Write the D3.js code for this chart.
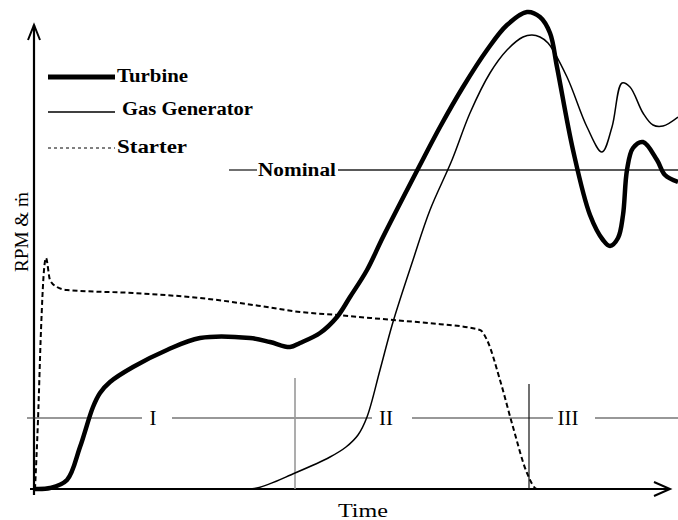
<!DOCTYPE html>
<html>
<head>
<meta charset="utf-8">
<script src="https://cdn.jsdelivr.net/npm/d3@7"></script>
<style>
  body { margin: 0; background: #fff; }
  text { font-family: "Liberation Serif", "Times New Roman", serif; fill: #000; }
</style>
</head>
<body>
<svg id="chart" width="678" height="520"></svg>
<script>
// time in arbitrary units, speed in arbitrary units (nominal ~ 80)
var turbine = [
  [0.05,0],[0.8,0.25],[1.65,2.25],[2.3,10.5],[2.95,20.5],[3.3,24],[3.8,26.75],[4.95,30.5],
  [6.65,34.75],[8.3,37.75],[10.8,37.75],[11.8,36.75],[12.8,35.5],[13.3,36.5],[14.3,39],
  [15.15,43],[15.8,48],[16.65,54.75],[17.45,63],[19.3,81],[20.3,90.5],[21.45,100.5],
  [22.65,109.75],[23.65,116],[24.65,119.25],[25.3,118],[25.8,114],[26.15,105.5],[26.95,84.75],
  [27.8,68.5],[28.45,62.25],[28.8,60.75],[29.2,62.75],[29.45,68.5],[29.65,79.75],[29.95,85.25],
  [30.45,86.75],[31.15,82.25],[31.55,78.5],[32.2,76.75]
];
var gasGenerator = [
  [10.15,0],[11.15,0.25],[13.05,4],[14.8,8],[15.6,10.5],[16.2,13.5],[16.65,18],[17.3,29.75],[17.95,41.75],
  [18.95,57.25],[19.8,69.75],[20.9,82.25],[21.8,94],[22.8,104],[23.65,109.75],[24.45,113],
  [24.9,113.5],[25.3,113],[25.7,111.5],[26.65,103],[27.65,90.5],[28.4,84.25],[28.9,90.5],
  [29.4,101.5],[29.8,100.5],[30.45,94],[30.95,91],[31.45,90.75],[32.2,93]
];
var starter = [
  [0.05,0],[0.2,17.25],[0.35,39.75],[0.5,54.75],[0.6,57.75],[0.8,52.25],[1.15,50.5],[1.65,49.75],
  [4.95,49],[8.3,47.75],[11.65,45.5],[13.3,44.25],[15.15,43.5],[17.95,42.25],[19.7,41.5],
  [22.3,39.75],[22.65,37.25],[23.3,27.25],[23.95,15.5],[24.65,4],[25.15,0],[25.8,0]
];
var nominalLevel = 79.75;
var phaseLevel = 17.75;
var phaseBounds = [[13.05, 27.75], [24.75, 26.25]];   // [time, top of marker]
var phaseLabels = ["I", "II", "III"];
var phaseLabelAt = [5.95, 17.6, 26.7];
var phaseGaps = [[5.4, 6.9], [16.9, 18.9], [25.95, 28.05]];
var legendNames = ["Turbine", "Gas Generator", "Starter"];

var svg = d3.select("#chart");
var x = d3.scaleLinear().domain([0, 32.2]).range([34, 678]);
var y = d3.scaleLinear().domain([0, 116]).range([489, 25]);

var line = d3.line().x(function(d){ return x(d[0]); }).y(function(d){ return y(d[1]); })
  .curve(d3.curveCatmullRom.alpha(0.5));
var stepLine = d3.line().x(function(d){ return x(d[0]); }).y(function(d){ return y(d[1]); })
  .curve(d3.curveMonotoneX);
var seg = d3.line().x(function(d){ return x(d[0]); }).y(function(d){ return y(d[1]); });

// axes
svg.append("path").attr("d", seg([[0,-1.5],[0,116]]))
  .attr("stroke","#000").attr("stroke-width",2.2).attr("fill","none");
svg.append("path").attr("d", seg([[-0.2,0],[31.8,0]]))
  .attr("stroke","#000").attr("stroke-width",2.2).attr("fill","none");
svg.append("path")
  .attr("d", "M" + (x(0)-6) + "," + (y(116)+15) + "L" + x(0) + "," + y(116) + "L" + (x(0)+6) + "," + (y(116)+15))
  .attr("stroke","#000").attr("stroke-width",2).attr("fill","none");
svg.append("path")
  .attr("d", "M" + (x(31.8)-16) + "," + (y(0)-7) + "L" + x(31.8) + "," + y(0) + "L" + (x(31.8)-16) + "," + (y(0)+7))
  .attr("stroke","#000").attr("stroke-width",2).attr("fill","none");

// phase divider line with labels
var gapEdges = [-0.35].concat(d3.merge(phaseGaps)).concat([32.2]);
for (var i = 0; i < gapEdges.length; i += 2) {
  svg.append("path").attr("d", seg([[gapEdges[i], phaseLevel],[gapEdges[i+1], phaseLevel]]))
    .attr("stroke","#333").attr("stroke-width",1.2);
}
svg.selectAll("text.phase").data(phaseLabels).enter().append("text")
  .attr("class","phase")
  .attr("x", function(d,i){ return x(phaseLabelAt[i]); })
  .attr("y", y(phaseLevel) + 7)
  .attr("text-anchor","middle")
  .style("font-size","21px")
  .text(function(d){ return d; });
svg.selectAll("path.bound").data(phaseBounds).enter().append("path")
  .attr("class","bound")
  .attr("d", function(d){ return seg([[d[0],0],[d[0],d[1]]]); })
  .attr("stroke", function(d,i){ return i === 0 ? "#999" : "#111"; })
  .attr("stroke-width", function(d,i){ return i === 0 ? 1.6 : 1.2; });

// nominal line
svg.append("path").attr("d", seg([[9.75, nominalLevel],[11.15, nominalLevel]]))
  .attr("stroke","#222").attr("stroke-width",1.3);
svg.append("path").attr("d", seg([[15.2, nominalLevel],[32.2, nominalLevel]]))
  .attr("stroke","#222").attr("stroke-width",1.3);
svg.append("text").attr("x", x(11.2)).attr("y", y(nominalLevel) + 6)
  .attr("textLength", 78).attr("lengthAdjust","spacingAndGlyphs")
  .style("font-size","18px").style("font-weight","bold").text("Nominal");

// curves
svg.append("path").datum(starter).attr("d", stepLine)
  .attr("fill","none").attr("stroke","#000").attr("stroke-width",2)
  .attr("stroke-dasharray","5,3");
svg.append("path").datum(gasGenerator).attr("d", line)
  .attr("fill","none").attr("stroke","#000").attr("stroke-width",1.5);
svg.append("path").datum(turbine).attr("d", line)
  .attr("fill","none").attr("stroke","#000").attr("stroke-width",4.5)
  .attr("stroke-linejoin","round");

// legend
var legendY = [77, 112, 148];
var legendTextX = [117, 122, 117];
var legendWidths = [71, 131, 70];
var legendStroke = [5, 1.5, 1];
var lg = svg.append("g");
lg.selectAll("line").data(legendNames).enter().append("line")
  .attr("x1", 48).attr("x2", 115)
  .attr("y1", function(d,i){ return legendY[i]; }).attr("y2", function(d,i){ return legendY[i]; })
  .attr("stroke","#000")
  .attr("stroke-width", function(d,i){ return legendStroke[i]; })
  .attr("stroke-dasharray", function(d,i){ return i === 2 ? "3,3" : null; });
lg.selectAll("text").data(legendNames).enter().append("text")
  .attr("x", function(d,i){ return legendTextX[i]; })
  .attr("y", function(d,i){ return legendY[i] + (i === 1 ? 3 : 5); })
  .attr("textLength", function(d,i){ return legendWidths[i]; })
  .attr("lengthAdjust","spacingAndGlyphs")
  .style("font-size","18px").style("font-weight","bold")
  .text(function(d){ return d; });

// axis titles
svg.append("text").attr("transform","translate(28,232) rotate(-90)")
  .attr("text-anchor","middle").attr("textLength",80).attr("lengthAdjust","spacingAndGlyphs")
  .style("font-size","19px").text("RPM & \u1E41");
svg.append("text").attr("x", 363).attr("y", 517).attr("text-anchor","middle")
  .attr("textLength",50).attr("lengthAdjust","spacingAndGlyphs")
  .style("font-size","19px").text("Time");
</script>
</body>
</html>
